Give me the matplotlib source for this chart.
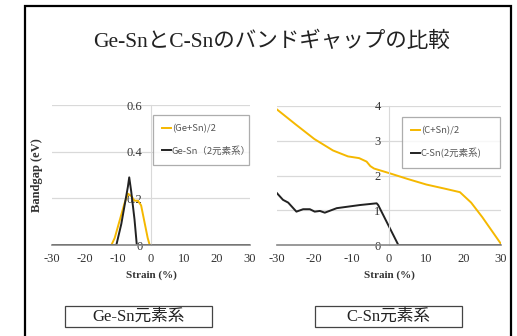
"""
Ge-Sn / C-Sn バンドギャップ比較図。
"""

import matplotlib
matplotlib.use("Agg")
import matplotlib.pyplot as plt
from matplotlib.patches import Rectangle

matplotlib.rcParams["axes.unicode_minus"] = False

SERIF = ["Liberation Serif", "Noto Sans CJK JP"]
SANS = ["Noto Sans CJK JP", "DejaVu Sans"]

# Ge-Sn 元素系
ge_avg_strain = [-30, -12, -11, -10, -9, -8, -7, -6, -5, -4, -3, -2, -1, -0.4, 30]
ge_avg_gap = [0, 0, 0.03, 0.08, 0.13, 0.18, 0.22, 0.21, 0.19, 0.19, 0.17, 0.10, 0.03, 0, 0]
ge_bin_strain = [-30, -10.5, -9, -8, -7, -6.6, -6, -5, -4.3, 30]
ge_bin_gap = [0, 0, 0.09, 0.17, 0.25, 0.29, 0.23, 0.11, 0, 0]

# C-Sn 元素系
c_avg_strain = [-30, -25, -20, -15, -11, -8, -6, -5, -4, 0, 5, 10, 15, 19, 22, 25, 30]
c_avg_gap = [3.90, 3.47, 3.05, 2.72, 2.55, 2.50, 2.40, 2.27, 2.20, 2.07, 1.90, 1.74,
             1.62, 1.52, 1.22, 0.80, 0.03]
c_bin_strain = [-30, -28.4, -27, -24.8, -23, -21.2, -19.9, -18.5, -17.2, -14, -7.8,
                -3.3, -2.9, 2.5, 30]
c_bin_gap = [1.49, 1.30, 1.22, 0.96, 1.03, 1.03, 0.96, 0.98, 0.93, 1.06, 1.15,
             1.20, 1.15, 0, 0]

fig = plt.figure(figsize=(5.17, 3.36), dpi=100)

# 外枠
fig.add_artist(Rectangle((25 / 517, -0.1), 486 / 517, 1.1 - 6 / 336,
                         transform=fig.transFigure, fill=False,
                         edgecolor="black", linewidth=1.6))

fig.text(271 / 517, 1 - 42 / 336, "Ge-SnとC-Snのバンドギャップの比較",
         ha="center", va="center", fontsize=15.5, family=SERIF, color="#222")


def style_axes(ax, yticks, ylabels):
    ax.set_xlim(-30, 30)
    ax.set_xticks(range(-30, 31, 10))
    ax.set_yticks(yticks)
    ax.set_yticklabels(ylabels)
    ax.set_ylim(yticks[0], yticks[-1])
    for s in ["top", "right"]:
        ax.spines[s].set_visible(False)
    ax.spines["left"].set_position(("data", 0))
    ax.spines["left"].set_color("#d9d9d9")
    ax.spines["bottom"].set_color("#888")
    ax.spines["bottom"].set_linewidth(1.2)
    ax.tick_params(length=0, labelsize=9, labelcolor="#333", pad=6)
    for lab in ax.get_xticklabels() + ax.get_yticklabels():
        lab.set_family(SERIF)
    ax.grid(axis="y", color="#d9d9d9", linewidth=0.9)
    ax.set_axisbelow(True)
    ax.set_xlabel("Strain (%)", fontsize=8, fontweight="bold", family=SERIF,
                  labelpad=4, color="#333")


ax1 = fig.add_axes([52 / 517, 1 - 245 / 336, 198 / 517, 140 / 336])
style_axes(ax1, [0, 0.2, 0.4, 0.6], ["0", "0.2", "0.4", "0.6"])
ax1.plot(ge_avg_strain, ge_avg_gap, color="#F5B800", linewidth=1.4, label="(Ge+Sn)/2")
ax1.plot(ge_bin_strain, ge_bin_gap, color="#222", linewidth=1.4, label="Ge-Sn（2元素系）")
ax1.set_ylabel("Bandgap (eV)", fontsize=9, fontweight="bold", family=SERIF,
               color="#333")
ax1.yaxis.set_label_coords(-0.045, 0.5)

ax2 = fig.add_axes([277 / 517, 1 - 245 / 336, 224 / 517, 139 / 336])
style_axes(ax2, [0, 1, 2, 3, 4], ["0", "1", "2", "3", "4"])
ax2.plot(c_avg_strain, c_avg_gap, color="#F5B800", linewidth=1.4, label="(C+Sn)/2")
ax2.plot(c_bin_strain, c_bin_gap, color="#222", linewidth=1.4, label="C-Sn(2元素系)")

for ax, bbox in [(ax1, (153, 115, 96, 48)), (ax2, (402, 117, 98, 51))]:
    x0, y0, w, h = bbox
    leg = ax.legend(loc="upper left",
                    bbox_to_anchor=(x0 / 517, 1 - (y0 + h) / 336, w / 517, h / 336),
                    bbox_transform=fig.transFigure, mode="expand",
                    prop={"family": SANS, "size": 6.8}, frameon=True, fancybox=False,
                    handlelength=0.9, handletextpad=0.1, labelspacing=1.3,
                    borderaxespad=0, borderpad=1.0, labelcolor="#555")
    leg.get_frame().set_edgecolor("#999")
    leg.get_frame().set_linewidth(0.9)

# 下部のラベル枠
for cx, label in [(138.5, "Ge-Sn元素系"), (388, "C-Sn元素系")]:
    fig.add_artist(Rectangle(((cx - 73.5) / 517, 1 - 327 / 336), 147 / 517, 21 / 336,
                             transform=fig.transFigure, fill=False,
                             edgecolor="#444", linewidth=0.9))
    fig.text(cx / 517, 1 - 316.5 / 336, label, ha="center", va="center",
             fontsize=12, family=SERIF, color="#222")

fig.savefig("out.png", dpi=100)
